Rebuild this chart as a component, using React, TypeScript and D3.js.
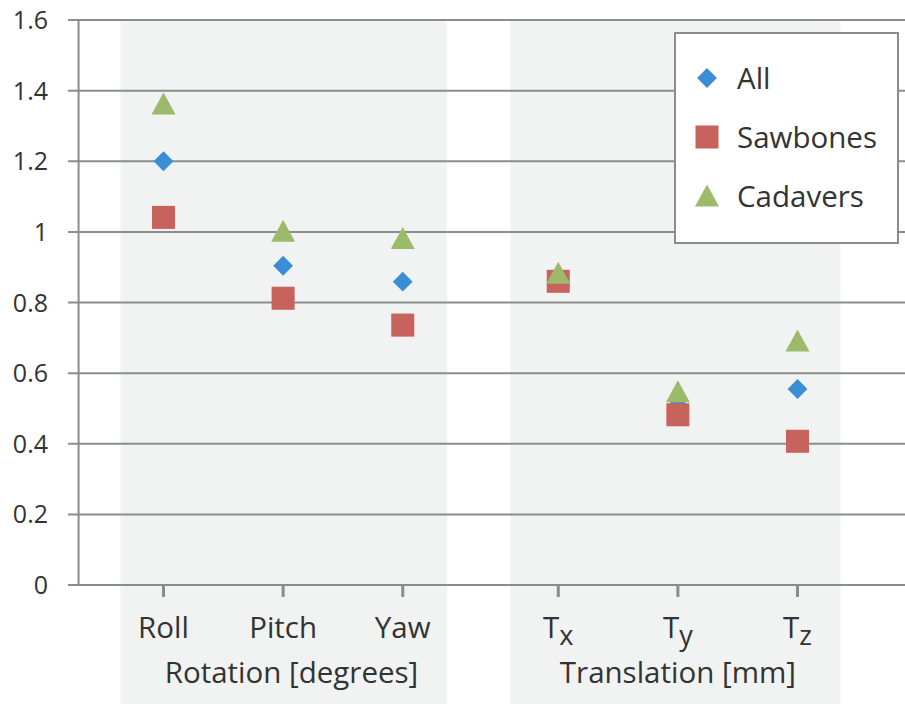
import React from "react";
import * as d3 from "d3";

const categories = ["Roll", "Pitch", "Yaw", "Tx", "Ty", "Tz"];
const catPos = [1, 2, 3, 4.3, 5.3, 6.3];
const allVals = [1.2, 0.904, 0.859, 0.87, 0.51, 0.555];
const sawbonesVals = [1.041, 0.812, 0.736, 0.86, 0.482, 0.407];
const cadaversVals = [1.362, 1.002, 0.981, 0.883, 0.547, 0.691];
const yTicks = [0, 0.2, 0.4, 0.6, 0.8, 1, 1.2, 1.4, 1.6];
const groups = [
  { label: "Rotation [degrees]", from: 0.64, to: 3.37, center: 2.07 },
  { label: "Translation [mm]", from: 3.9, to: 6.66, center: 5.3 },
];
const seriesNames = ["All", "Sawbones", "Cadavers"];

const W = 905;
const H = 704;
const FONT = "'Open Sans', 'Noto Sans', sans-serif";
const TXT = "#333333";

export default function App() {
  const x = d3.scaleLinear().domain([1, 6.3]).range([163.5, 797.5]);
  const y = d3.scaleLinear().domain([0, 1.6]).range([585, 20]);
  const plotLeft = x(0.29);
  const colors = { All: "#3a8ed6", Sawbones: "#c8625d", Cadavers: "#9cbb6a" };
  const diamond = d3.symbol().type(d3.symbolDiamond2).size(250)();
  const square = d3.symbol().type(d3.symbolSquare).size(530)();
  const triangle = "M0,-11.5L12,10.5L-12,10.5Z";
  const markerFor: Record<string, string> = { All: diamond, Sawbones: square, Cadavers: triangle };
  const seriesData: [string, number[]][] = [
    ["All", allVals],
    ["Sawbones", sawbonesVals],
    ["Cadavers", cadaversVals],
  ];

  return (
    <svg width={W} height={H} style={{ position: "absolute", left: 0, top: 0, background: "#fff" }}>
      {groups.map((g) => (
        <rect key={g.label} x={x(g.from)} y={y(1.6)} width={x(g.to) - x(g.from)} height={H - y(1.6)} fill="#f1f2f2" />
      ))}
      {yTicks.map((t) => (
        <g key={t}>
          <line x1={68} x2={W} y1={y(t)} y2={y(t)} stroke="#8c8c8c" strokeWidth={2} />
          <text x={48} y={y(t) + 9} textAnchor="end" fontFamily={FONT} fontSize={25} fill={TXT}>
            {String(t)}
          </text>
        </g>
      ))}
      <line x1={plotLeft} x2={plotLeft} y1={y(1.6)} y2={y(0)} stroke="#8c8c8c" strokeWidth={2} />
      {categories.map((c, i) => (
        <g key={c}>
          <line x1={x(catPos[i])} x2={x(catPos[i])} y1={y(0)} y2={y(0) + 12} stroke="#8c8c8c" strokeWidth={3} />
          {c.startsWith("T") ? (
            <text x={x(catPos[i])} y={638} textAnchor="middle" fontFamily={FONT} fontSize={29.5} fill={TXT}>
              T
              <tspan dy={7} fontSize={27}>{c.slice(1).toLowerCase()}</tspan>
            </text>
          ) : (
            <text x={x(catPos[i])} y={638} textAnchor="middle" fontFamily={FONT} fontSize={29.5} fill={TXT}>
              {c}
            </text>
          )}
        </g>
      ))}
      {groups.map((g) => (
        <text key={g.label} x={x(g.center)} y={683} textAnchor="middle" fontFamily={FONT} fontSize={29.5} fill={TXT}>
          {g.label}
        </text>
      ))}
      {seriesData.map(([name, vals]) => (
        <g key={name}>
          {vals.map((v, i) => (
            <path
              key={i}
              d={markerFor[name]}
              transform={`translate(${x(catPos[i])},${y(v)})`}
              fill={(colors as any)[name]}
            />
          ))}
        </g>
      ))}
      <rect x={675} y={33} width={223} height={210} fill="#fff" stroke="#8c8c8c" strokeWidth={2} />
      {seriesNames.map((n, i) => (
        <g key={n} transform={`translate(707,${78 + i * 59})`}>
          <path d={markerFor[n]} fill={(colors as any)[n]} />
          <text x={30} y={10.5} fontFamily={FONT} fontSize={29.5} fill={TXT}>
            {n}
          </text>
        </g>
      ))}
    </svg>
  );
}
